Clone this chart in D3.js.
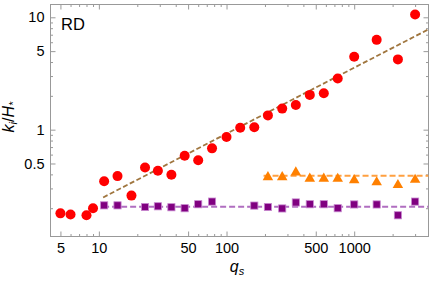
<!DOCTYPE html>
<html><head><meta charset="utf-8">
<script src="https://cdn.jsdelivr.net/npm/d3@7"></script>
<style>body{margin:0;background:#fff}svg{display:block}text{font-family:"Liberation Sans",Arial,sans-serif}</style>
</head><body><svg id="c" width="432" height="283"></svg>
<script>
// ---- data ----
const redX = [5,6,8,9,11,14,18,23,29,37,47,60,77,100,128,165,211,273,349,449,578,743,1000,1500,2200,3000];
const redY = [0.180,0.176,0.173,0.200,0.347,0.386,0.259,0.461,0.431,0.397,0.585,0.534,0.682,0.862,1.04,1.05,1.34,1.54,1.66,2.04,2.11,2.85,4.46,6.30,4.22,10.6];
const purpleX = [11,14,23,29,37,47,60,77,165,211,273,349,449,578,743,1000,1500,2200,3000];
const purpleY = [0.212,0.212,0.205,0.208,0.204,0.200,0.217,0.229,0.211,0.205,0.199,0.225,0.217,0.217,0.200,0.216,0.216,0.173,0.229];
const orangeX = [211,273,349,449,578,743,1000,1500,2200,3000];
const orangeY = [0.386,0.386,0.425,0.374,0.374,0.373,0.363,0.347,0.328,0.366];
// fits
const brownFit = {a:0.0617, p:0.587, from:10.8};
const purpleFit = {level:0.206, from:10.8};
const orangeFit = {level:0.389, from:195};
const xMajor = [5,10,50,100,500,1000];
const yMajor = [0.5,1,5,10];
const panelLabel = "RD";

// ---- drawing ----
const svg = d3.select("#c");
const L=50.5, R=428.5, T=4.5, B=236.5;
const x = d3.scaleLog().domain([4.18,3820]).range([L,R]);
const y = d3.scaleLog().domain([0.112,13.0]).range([B,T]);
const xDom = x.domain(), yDom = y.domain();

function minorTicks(dom){
  const out=[];
  for(let e=-2;e<=4;e++) for(let m=1;m<=9;m++){const v=m*Math.pow(10,e); if(v>=dom[0]&&v<=dom[1]) out.push(v);}
  return out;
}
const xMinor = minorTicks(xDom).filter(v=>!xMajor.includes(v));
const yMinor = minorTicks(yDom).filter(v=>!yMajor.includes(v));
const fmt = v=>String(v);

function styleAxis(g){ g.select(".domain").remove(); g.selectAll("line").attr("stroke","#999").attr("stroke-width",1);
  g.selectAll("text").attr("fill","#000").style("font-size","14.5px"); }

// bottom
svg.append("g").attr("transform",`translate(0,${B})`).call(d3.axisBottom(x).tickValues(xMajor).tickFormat(fmt).tickSize(-5).tickPadding(6)).call(styleAxis);
svg.append("g").attr("transform",`translate(0,${B})`).call(d3.axisBottom(x).tickValues(xMinor).tickFormat("").tickSize(-2.5)).call(styleAxis);
// top
svg.append("g").attr("transform",`translate(0,${T})`).call(d3.axisTop(x).tickValues(xMajor).tickFormat("").tickSize(-5)).call(styleAxis);
svg.append("g").attr("transform",`translate(0,${T})`).call(d3.axisTop(x).tickValues(xMinor).tickFormat("").tickSize(-2.5)).call(styleAxis);
// left
svg.append("g").attr("transform",`translate(${L},0)`).call(d3.axisLeft(y).tickValues(yMajor).tickFormat(fmt).tickSize(-5).tickPadding(6)).call(styleAxis);
svg.append("g").attr("transform",`translate(${L},0)`).call(d3.axisLeft(y).tickValues(yMinor).tickFormat("").tickSize(-2.5)).call(styleAxis);
// right
svg.append("g").attr("transform",`translate(${R},0)`).call(d3.axisRight(y).tickValues(yMajor).tickFormat("").tickSize(-5)).call(styleAxis);
svg.append("g").attr("transform",`translate(${R},0)`).call(d3.axisRight(y).tickValues(yMinor).tickFormat("").tickSize(-2.5)).call(styleAxis);

// frame
svg.append("rect").attr("x",L).attr("y",T).attr("width",R-L).attr("height",B-T).attr("fill","none").attr("stroke","#999").attr("stroke-width",1);

// clip
svg.append("clipPath").attr("id","clip").append("rect").attr("x",L).attr("y",T).attr("width",R-L).attr("height",B-T);
const plot = svg.append("g").attr("clip-path","url(#clip)");

const line = d3.line().x(d=>x(d[0])).y(d=>y(d[1]));
// brown power-law fit
const bx = [brownFit.from, xDom[1]];
plot.append("path").attr("d",line(bx.map(v=>[v,brownFit.a*Math.pow(v,brownFit.p)])))
  .attr("fill","none").attr("stroke","#a0763f").attr("stroke-width",1.8).attr("stroke-dasharray","5,2.5");
plot.append("path").attr("d",line([[purpleFit.from,purpleFit.level],[xDom[1],purpleFit.level]]))
  .attr("fill","none").attr("stroke","#b06ec0").attr("stroke-width",1.8).attr("stroke-dasharray","6,3");
plot.append("path").attr("d",line([[orangeFit.from,orangeFit.level],[xDom[1],orangeFit.level]]))
  .attr("fill","none").attr("stroke","#ffa040").attr("stroke-width",1.8).attr("stroke-dasharray","6,3");

// markers
plot.selectAll("circle.r").data(redX.map((v,i)=>[v,redY[i]])).join("circle")
  .attr("cx",d=>x(d[0])).attr("cy",d=>y(d[1])).attr("r",5).attr("fill","#ff0000");
plot.selectAll("rect.p").data(purpleX.map((v,i)=>[v,purpleY[i]])).join("rect")
  .attr("x",d=>x(d[0])-3.6).attr("y",d=>y(d[1])-3.6).attr("width",7.2).attr("height",7.2)
  .attr("fill","#800080").attr("stroke","#c88ad0").attr("stroke-width",0.8);
const tri = d3.symbol().type(d3.symbolTriangle).size(48);
plot.selectAll("path.o").data(orangeX.map((v,i)=>[v,orangeY[i]])).join("path")
  .attr("d",tri).attr("transform",d=>`translate(${x(d[0])},${y(d[1])+1})`).attr("fill","#ff8000");

// panel label
svg.append("text").attr("x",61).attr("y",30).style("font-size","16.5px").text(panelLabel);

// axis titles
const xt = svg.append("text").attr("x",237).attr("y",272).attr("text-anchor","middle").style("font-size","16px").style("font-style","italic");
xt.append("tspan").text("q");
xt.append("tspan").attr("dy",3).style("font-size","11px").text("s");
const yt = svg.append("text").attr("transform","translate(14,117) rotate(-90)").attr("text-anchor","middle").style("font-size","16px").style("font-style","italic");
yt.append("tspan").text("k");
yt.append("tspan").attr("dy",3).style("font-size","11px").text("i");
yt.append("tspan").attr("dy",-3).style("font-style","normal").text("/");
yt.append("tspan").text("H");
yt.append("tspan").attr("dy",3).style("font-size","11px").text("*");
</script></body></html>
